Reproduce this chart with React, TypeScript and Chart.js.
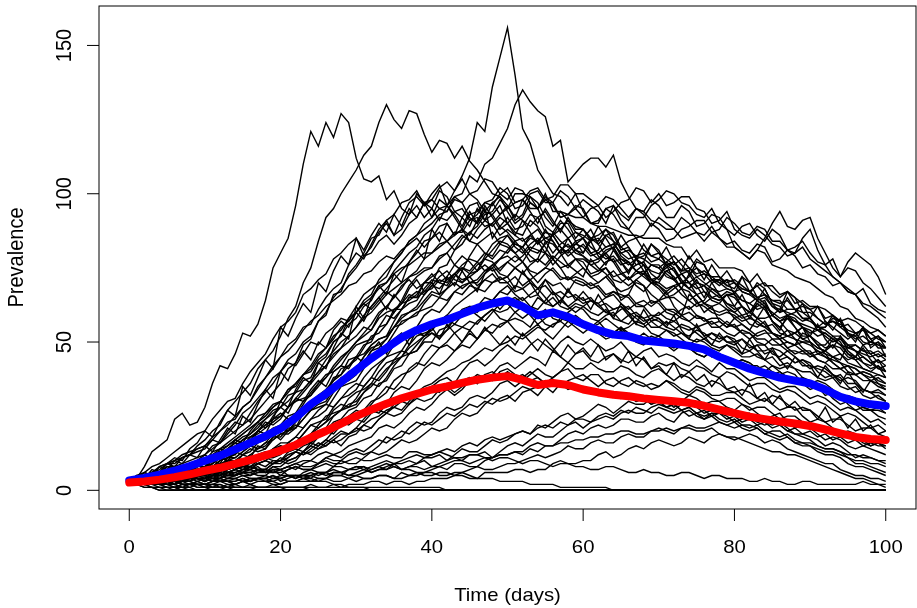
import React, { useEffect, useRef } from "react";
import { Chart, registerables } from "chart.js";

Chart.register(...registerables);

// Time grid (days)
const DAYS = [0,1,2,3,4,5,6,7,8,9,10,11,12,13,14,15,16,17,18,19,20,21,22,23,24,25,26,27,28,29,30,31,32,33,34,35,36,37,38,39,40,41,42,43,44,45,46,47,48,49,50,51,52,53,54,55,56,57,58,59,60,61,62,63,64,65,66,67,68,69,70,71,72,73,74,75,76,77,78,79,80,81,82,83,84,85,86,87,88,89,90,91,92,93,94,95,96,97,98,99,100];
// Grid for the two mean curves (days)
const MEAN_DAYS = [0,2,4,6,8,10,12,14,16,18,20,22,24,26,28,30,32,34,36,38,40,42,44,46,48,50,52,54,56,58,60,62,64,66,68,70,72,74,76,78,80,82,84,86,88,90,92,94,96,98,100];

const X_TICKS = [0, 20, 40, 60, 80, 100];
const Y_TICKS = [0, 50, 100, 150];
const X_TITLE = "Time (days)";
const Y_TITLE = "Prevalence";

// Mean prevalence among runs that took off (blue) and over all runs (red)
const MEAN_TAKEOFF = [3.3,4.2,5.3,6.6,8.2,10.0,11.7,13.8,16.0,18.3, 20.8,24.5,29,32.5,36.5,40.5,44.5,48,51.5,54, 56,57.5,59.5,61.5,63,64,62,59,60,58.5, 56,54,52.5,52,50.5,50,49.5,48.7,47.5,45, 43,41,39.5,38,37,36,34,31.5,30,29, 28.4];
const MEAN_ALL = [2.6,3.0,3.6,4.4,5.4,6.6,7.6,8.9,10.3,11.8, 13.4,15.3,17.8,20,22.5,25,27.2,29.2,31,32.5, 34,35,36.2,37.3,38,38.5,37.2,35.5,36.2,35.5, 34,33,32.2,31.7,31,30.5,30,29.5,28.5,27.2, 26,24.8,24,23.2,22.5,21.7,20.5,19.2,18,17.3, 17];

// Individual stochastic runs, one value per day
const runA1 = [3,4,8,13,15,17,24,26,22,23, 28,36,42,41,46,53,52,56,64,75, 80,85,96,110,121,116,124,119,127,124, 112,105,104,106,98,101,95,93,100,97, 92,98,96,92,88,86,91,95,85,89, 87,84,81,77,78,84,83,80,76,74, 72,78,75,73,70,64,66,71,69,63, 64,67,62,59,66,64,60,62,57,55, 58,56,54,58,56,53,51,48,49,53, 52,49,46,45,44,49,47,43,42,44, 40];
const runA2 = [3,3,4,6,6,9,9,11,12,15, 17,20,22,27,30,33,36,41,44,47, 52,58,62,70,75,84,92,95,100,104, 108,113,116,124,130,125,122,128,127,120, 114,118,117,112,116,111,108,104,100,99, 96,91,93,99,97,92,89,94,91,87, 85,88,83,86,87,82,80,76,77,83, 81,76,74,70,72,77,76,71,69,71, 66,72,70,65,63,59,61,67,65,60, 58,54,55,59,57,52,52,55,48,50, 45];
const runA3 = [3,5,6,8,9,11,13,15,17,19, 20,24,27,30,31,36,40,43,46,51, 55,57,60,66,68,71,73,78,80,83, 85,79,82,87,90,86,88,93,96,92, 95,101,99,94,92,96,97,91,93,96, 90,87,86,91,89,85,84,80,81,84, 80,85,83,79,77,73,74,78,76,71, 70,74,72,68,67,63,64,68,66,62, 60,62,58,63,61,57,55,52,53,55, 50,46,47,51,49,46,44,41,40,42, 38];
const runA4 = [3,4,5,6,7,9,10,11,12,14, 15,18,20,23,24,28,30,35,38,42, 45,49,51,55,56,61,65,68,70,76, 80,78,83,88,91,86,92,97,99,96, 100,103,96,101,105,100,98,94,97,99, 94,90,92,97,95,89,87,91,88,84, 85,80,81,86,84,79,77,74,76,71, 72,77,75,70,68,71,67,64,63,66, 62,59,60,64,62,57,55,58,55,51, 52,49,49,52,50,46,45,48,44,41, 42];
const runA5 = [3,4,4,5,6,8,8,9,10,11, 12,15,16,19,22,26,28,31,34,38, 40,44,46,50,52,57,60,65,68,72, 75,79,80,84,86,83,86,90,92,97, 98,95,94,99,97,92,90,94,93,89, 92,88,89,93,92,87,86,90,90,85, 88,85,84,88,86,81,82,78,79,83, 80,76,77,74,74,78,76,71,71,74, 70,67,66,70,68,63,62,59,60,63, 58,55,55,58,57,53,52,49,50,52, 48];
const runB1 = [3,3,3,4,5,6,7,8,9,10, 12,14,16,18,20,22,24,27,30,33, 36,41,43,49,51,57,59,66,67,73, 76,80,85,86,91,93,97,98,101,96, 98,102,104,101,106,112,124,121,136,146, 156,140,122,117,108,104,100,99,96,100, 94,90,90,95,96,91,88,92,92,96, 98,101,100,97,96,93,92,95,90,88, 82,80,78,81,85,90,94,89,88,91, 92,85,80,75,72,77,80,78,76,72, 66];
const runB2 = [3,3,3,4,4,5,6,7,8,9, 10,12,13,15,17,19,21,23,25,28, 30,34,35,39,40,44,46,50,52,58, 62,66,68,70,72,77,80,84,86,90, 92,95,96,99,100,106,104,110,112,117, 122,130,135,131,128,126,116,118,104,107, 110,112,112,109,113,104,99,95,94,98, 96,92,92,96,94,89,90,93,92,88, 86,89,90,86,84,88,86,81,80,85, 88,81,76,78,72,75,74,70,68,65, 62];
const runB3 = [3,3,4,4,5,5,6,7,7,8, 9,11,12,14,16,18,19,22,24,27, 28,32,33,37,38,43,45,50,52,56, 58,62,64,69,70,74,77,80,82,86, 88,92,91,94,95,91,93,97,98,102, 100,95,96,100,101,97,97,101,99,95, 98,96,94,90,96,93,91,95,93,89, 92,90,88,92,90,87,86,89,85,83, 84,81,80,83,82,77,78,81,79,75, 76,73,72,69,70,67,66,68,63,61, 60];
const runB4 = [3,4,3,4,4,5,5,6,6,7, 8,9,11,12,14,15,18,19,21,23, 25,28,30,33,36,39,42,46,48,52, 55,59,62,65,68,71,74,77,80,84, 85,89,90,86,88,93,94,97,96,100, 98,102,101,97,95,99,97,92,93,96, 95,90,91,95,93,89,88,85,86,90, 88,84,85,88,89,91,91,87,88,92, 90,87,86,89,88,84,84,81,82,84, 80,77,76,72,70,68,66,62,60,58, 55];
const runB5 = [3,3,4,5,6,8,7,8,9,9, 10,13,14,16,18,20,22,25,26,29, 30,34,36,39,41,45,48,52,54,58, 60,64,66,71,74,77,80,84,86,88, 90,93,94,98,97,100,101,105,104,100, 102,97,98,95,95,98,96,92,93,95, 92,95,96,92,94,97,98,102,101,97, 100,96,97,99,99,95,94,90,91,94, 88,86,85,88,86,83,82,79,80,82, 78,76,74,72,70,67,66,63,62,60, 58];
const runB6 = [3,3,3,4,4,5,5,6,6,7, 7,8,10,12,13,14,16,18,19,21, 22,25,26,30,32,35,38,41,44,47, 50,53,56,60,62,65,68,72,74,78, 80,82,84,87,87,91,92,89,90,93, 95,97,98,101,102,98,99,103,103,100, 100,98,96,99,98,95,92,95,94,91, 90,88,88,85,86,87,84,87,85,82, 82,80,78,81,80,76,75,74,72,71, 70,68,66,65,62,61,58,57,55,54, 52];
const runC1 = [3,3,4,5,6,4,5,7,8,8, 9,11,13,11,12,15,17,20,22,24, 26,24,25,29,33,36,38,42,45,47, 50,52,54,59,62,60,64,69,72,74, 75,79,80,76,74,79,83,80,79,83, 86,83,82,86,88,84,80,83,85,81, 79,76,77,80,82,77,74,76,77,73, 71,74,75,71,68,70,69,65,64,66, 66,62,60,63,64,59,57,59,58,55, 54,52,53,51,51,48,49,47,46,47, 45];
const runC2 = [3,2,2,3,4,5,5,4,4,5, 6,8,9,8,8,10,12,14,16,17, 19,20,21,24,27,29,30,34,38,39, 41,45,49,51,52,57,61,63,64,68, 71,70,72,76,79,77,74,78,81,84, 83,80,77,81,84,80,76,79,81,78, 77,73,74,77,78,74,71,73,74,71, 69,66,68,70,70,66,63,65,66,63, 61,62,60,58,58,59,57,54,53,55, 52,50,48,49,48,45,44,45,43,41, 40];
const runC3 = [3,4,4,3,3,4,5,6,7,7, 6,8,10,11,11,13,15,14,16,19, 21,20,23,27,30,31,33,37,41,42, 44,48,52,53,56,60,63,64,66,70, 73,70,69,73,76,78,77,74,75,78, 81,84,85,81,80,83,86,82,79,81, 83,80,78,81,82,78,76,78,76,74, 73,75,77,73,70,72,70,68,67,68, 67,64,63,65,66,62,60,61,61,58, 57,55,57,55,53,51,53,50,49,50, 48];
const runC4 = [3,2,2,3,3,4,5,4,4,5, 5,7,8,7,8,10,12,11,12,14, 16,16,18,21,24,25,27,31,35,36, 37,41,45,46,49,53,57,58,59,63, 66,65,68,72,75,73,74,79,83,85, 86,82,80,83,85,82,78,81,83,80, 79,77,78,80,77,78,77,74,73,76, 76,73,71,73,74,70,69,71,70,68, 67,68,67,65,66,64,64,61,61,62, 61,58,56,57,56,54,53,54,53,51, 50];
const runC5 = [3,4,4,5,5,4,4,6,7,6, 6,8,9,10,10,12,14,13,14,17, 19,19,21,24,27,28,29,33,36,37, 39,43,47,48,51,55,59,60,62,66, 69,68,71,73,71,72,74,76,74,75, 77,79,77,74,73,75,78,75,71,73, 75,72,70,72,74,71,69,71,73,70, 69,67,69,70,68,66,67,65,64,66, 65,62,60,62,63,59,57,58,57,55, 53,54,53,51,49,48,47,45,43,44, 42];
const runC6 = [3,4,5,5,4,6,7,6,7,9, 10,10,11,14,16,15,17,20,23,22, 24,28,30,31,32,36,39,40,42,46, 49,50,51,55,59,58,61,65,67,66, 69,72,74,71,70,73,76,78,77,74, 77,75,73,71,73,75,74,71,72,70, 69,70,68,65,67,66,65,62,62,64, 63,60,59,61,62,59,57,58,58,56, 55,56,54,52,53,53,52,50,49,50, 49,47,45,44,43,42,39,40,39,37, 36];
const runC7 = [3,3,2,3,4,3,3,4,5,5, 4,5,7,8,7,9,11,10,11,13, 15,14,16,19,22,23,24,28,31,32, 34,38,41,43,45,49,52,53,55,59, 61,60,63,67,69,70,70,73,76,78, 79,77,79,82,81,80,87,84,82,83, 85,82,80,82,83,80,78,79,78,76, 75,77,79,76,73,75,73,72,72,70, 71,69,67,69,70,67,65,67,65,63, 61,62,61,59,57,58,57,55,53,54, 52];
const runC8 = [3,4,4,3,3,5,4,6,7,6, 7,9,11,10,11,13,15,14,15,18, 21,20,23,26,29,30,31,35,37,40, 41,45,48,49,51,55,58,60,61,64, 67,66,68,70,68,70,71,74,76,73, 72,75,77,73,70,73,75,72,71,72, 71,69,70,72,69,67,68,70,69,66, 64,65,65,63,61,63,62,60,59,60, 59,57,58,57,55,53,51,52,51,48, 46,47,46,43,41,42,41,39,38,39, 38];
const runD1 = [3,3,2,3,4,3,3,5,5,4, 4,6,7,6,7,9,10,9,10,12, 13,13,14,17,19,20,21,25,27,28, 29,33,36,35,38,42,45,46,47,51, 53,52,54,58,59,61,60,63,64,61, 64,65,63,61,65,63,62,64,62,60, 62,64,63,60,59,61,62,59,57,58, 60,58,57,59,57,55,56,57,55,53, 52,54,53,50,49,51,51,48,46,47, 47,44,43,45,43,40,39,40,39,36, 34];
const runD2 = [3,3,4,4,3,4,5,4,4,6, 7,6,6,8,10,9,10,12,13,12, 13,16,18,17,19,22,25,26,27,31, 33,34,36,40,43,44,45,49,52,53, 54,57,59,58,61,62,61,63,64,67, 69,66,64,66,68,65,62,64,67,65, 63,64,62,60,61,62,60,58,56,58, 57,55,54,56,55,53,51,53,52,50, 49,51,49,47,47,48,47,45,43,44, 43,40,38,39,38,35,33,34,33,31, 30];
const runD3 = [3,2,2,3,3,2,3,4,5,4, 3,5,6,5,5,7,8,7,7,9, 11,10,11,13,16,15,17,20,23,22, 24,27,30,31,33,37,39,40,42,46, 49,48,50,53,55,57,56,59,61,60, 61,64,65,62,61,64,67,65,62,64, 67,64,63,65,66,63,61,63,62,59, 59,61,60,58,57,59,58,55,55,57, 55,53,51,53,54,51,49,50,49,47, 45,46,45,43,41,42,41,39,37,38, 36];
const runD4 = [3,4,4,3,3,5,4,4,6,5, 5,7,9,8,8,10,11,10,11,14, 15,14,16,19,22,21,23,27,29,28, 31,35,38,37,40,44,47,46,49,52, 53,51,54,56,55,54,57,59,61,58, 57,60,62,59,56,58,60,58,57,59, 57,55,56,58,56,54,55,57,56,53, 52,54,53,51,49,51,50,48,47,49, 47,45,45,46,44,42,41,42,41,38, 36,37,36,34,31,32,31,29,30,29, 28];
const runD5 = [3,4,5,4,4,6,6,5,5,7, 8,7,8,11,13,12,13,16,17,19, 17,20,22,21,24,27,29,28,31,34, 36,35,38,42,45,46,47,51,53,52, 54,57,58,56,59,61,59,57,60,63, 63,60,58,60,59,56,55,58,58,56, 55,56,54,52,53,55,53,51,50,52, 51,49,48,50,48,46,45,47,46,44, 43,44,43,41,42,40,39,40,39,36, 34,35,34,31,29,30,29,27,27,28, 26];
const runD6 = [3,3,2,3,4,3,2,3,5,4, 3,5,6,5,5,6,8,7,7,9, 10,9,10,13,15,14,16,18,20,19, 21,24,27,26,29,33,35,34,37,41, 43,42,44,47,49,48,51,54,56,55, 57,58,57,55,59,61,58,57,60,62, 61,58,57,59,60,57,56,59,58,55, 55,57,55,53,52,54,53,51,50,52, 51,48,47,49,49,46,45,47,45,43, 41,42,41,39,37,38,37,34,33,34, 32];
const runD7 = [3,4,4,3,2,4,5,4,3,5, 6,5,5,7,8,7,8,10,11,10, 10,13,14,13,15,18,21,20,22,25, 27,26,29,32,35,34,37,41,43,42, 45,48,49,47,50,53,51,54,53,56, 57,54,52,54,56,53,51,54,57,55, 53,55,53,51,52,54,52,50,49,51, 51,49,47,49,48,46,45,47,46,44, 43,44,43,41,40,42,40,38,37,38, 37,35,32,33,32,29,27,28,27,25, 24];
const runE1 = [3,2,3,4,4,3,3,4,5,4, 4,6,5,6,7,8,7,6,6,8, 8,10,11,13,12,14,15,17,15,18, 19,22,21,24,26,28,27,30,33,34, 35,37,38,36,40,43,44,42,44,47, 49,47,46,49,51,49,47,50,52,50, 49,51,49,47,48,50,47,45,47,48, 45,46,45,43,42,44,42,40,43,41, 41,39,37,38,38,36,34,35,35,33, 31,32,31,29,27,28,27,25,23,24, 22];
const runE2 = [3,3,2,2,3,3,2,3,4,4, 3,4,4,5,6,5,5,7,6,8, 7,8,9,10,10,12,13,12,13,15, 16,17,18,21,22,21,23,26,28,27, 29,32,34,32,34,37,39,38,39,42, 43,41,43,45,44,42,47,45,43,46, 47,44,43,45,46,44,43,45,44,41, 43,42,43,41,40,42,41,39,38,40, 39,37,35,36,36,34,33,34,33,31, 29,30,29,27,25,26,25,23,21,22, 20];
const runE3 = [3,3,4,4,3,4,5,6,4,5, 6,5,5,7,8,7,7,9,10,9, 9,11,13,12,13,15,17,16,17,19, 21,20,21,24,26,25,26,29,31,30, 31,34,35,33,35,37,36,39,37,40, 41,39,38,40,38,36,38,40,41,38, 37,39,39,36,35,37,38,36,35,36, 35,37,35,33,32,34,33,31,30,31, 31,29,27,28,28,26,24,25,25,23, 21,22,21,19,18,19,18,16,15,16, 15];
const runE4 = [3,2,3,3,2,3,4,3,3,5, 5,4,4,6,5,6,6,5,5,7, 5,7,8,7,7,9,11,10,10,12, 13,12,13,15,18,17,18,21,23,22, 23,26,28,27,28,31,32,31,33,36, 37,35,37,39,41,39,38,40,43,41, 41,43,41,40,40,42,41,39,38,40, 41,39,37,39,38,36,35,37,36,34, 33,34,33,31,30,32,31,29,27,28, 27,25,23,24,24,22,20,21,21,19, 18];
const runE5 = [3,2,2,3,3,2,2,3,4,3, 2,3,4,3,3,4,3,4,5,4, 5,5,4,6,7,6,6,8,10,9, 9,11,13,12,13,15,17,16,17,19, 21,20,21,24,26,25,26,29,31,30, 31,33,35,34,35,37,36,35,37,38, 39,37,35,37,38,36,35,37,36,34, 35,37,36,34,33,35,34,32,32,33, 33,31,29,30,31,29,27,28,28,25, 23,24,23,21,19,20,19,17,15,16, 14];
const runF1 = [3,2,2,3,3,2,2,3,3,2, 2,3,4,3,3,4,3,4,4,3, 4,3,3,4,5,4,4,6,6,5, 5,6,7,8,7,9,9,10,9,11, 11,12,10,12,14,13,13,15,17,16, 17,19,20,19,22,21,23,25,26,24, 25,27,29,28,26,28,30,29,29,31, 31,30,28,30,32,31,29,30,30,28, 27,29,28,26,24,25,26,23,21,22, 21,19,17,18,17,15,14,15,14,13, 12];
const runF2 = [3,3,2,2,2,1,1,2,2,1, 1,2,2,1,2,3,2,3,3,2, 2,3,3,4,3,3,4,5,5,4, 3,4,4,5,5,4,6,5,5,6, 7,8,7,9,9,8,8,10,11,12, 12,13,13,15,16,15,15,17,19,20, 19,21,22,21,22,24,24,23,23,25, 26,24,23,26,27,25,24,26,26,25, 23,24,25,23,22,23,22,20,19,19, 18,17,15,16,15,13,11,12,11,10, 9];
const runF3 = [3,4,3,4,4,3,3,2,2,3, 4,3,3,4,4,3,4,4,4,5, 3,4,5,5,4,6,6,5,5,7, 7,8,6,7,8,9,7,8,9,10, 8,9,10,11,10,12,12,13,11,13, 15,16,15,17,19,18,18,20,22,23, 21,23,24,25,24,26,27,26,26,28, 29,28,27,29,30,28,26,27,28,26, 25,26,26,24,23,22,23,21,19,18, 17,15,14,14,13,11,9,9,8,7, 6];
const runF4 = [3,2,2,2,2,3,3,2,2,2, 2,3,3,2,2,3,3,4,3,3, 2,3,3,3,3,4,4,3,3,4, 5,4,4,5,5,4,4,5,6,5, 5,6,6,5,6,7,8,7,7,8, 9,9,10,11,12,11,12,13,15,14, 14,16,17,16,16,18,19,18,18,20, 21,20,19,21,22,21,21,22,23,22, 21,22,22,21,19,20,20,18,16,16, 15,13,12,12,11,9,8,8,7,6, 5];
const runF5 = [3,3,2,2,2,1,1,1,2,2, 1,1,2,1,1,1,2,1,1,2, 1,1,1,1,2,1,1,2,1,2, 2,2,3,3,2,3,3,2,3,3, 4,4,4,5,5,4,4,6,6,6, 6,7,7,6,7,7,9,10,9,9, 10,10,12,13,11,12,14,15,14,16, 17,16,15,16,18,17,16,18,19,18, 17,18,19,18,16,17,16,14,13,12, 11,10,9,9,7,6,5,5,4,4, 3];
const runG1 = [3,3,3,4,4,3,4,5,5,4, 4,5,6,5,5,6,6,7,7,6, 6,7,8,7,7,8,9,8,8,7, 8,8,7,8,9,8,7,7,6,6, 6,5,5,6,6,5,4,4,4,3, 3,3,3,2,2,2,2,1,1,1, 1,1,1,1,0,0,0,0,0,0, 0,0,0,0,0,0,0,0,0,0, 0,0,0,0,0,0,0,0,0,0, 0,0,0,0,0,0,0,0,0,0, 0];
const runG2 = [3,3,2,2,2,3,3,2,2,2, 2,1,1,2,1,1,1,1,1,1, 1,1,1,1,1,1,1,1,1,1, 1,1,1,1,1,1,1,1,1,1, 1,1,0,0,0,0,0,0,0,0, 0,0,0,0,0,0,0,0,0,0, 0,0,0,0,0,0,0,0,0,0, 0,0,0,0,0,0,0,0,0,0, 0,0,0,0,0,0,0,0,0,0, 0,0,0,0,0,0,0,0,0,0, 0];
const runG3 = [3,4,3,4,4,5,5,4,4,5, 6,6,5,6,7,6,7,8,6,7, 7,8,9,8,8,9,10,9,9,10, 11,10,10,11,12,11,11,13,13,12, 12,13,12,11,11,12,12,11,10,11, 11,10,9,10,10,9,8,9,9,8, 8,7,7,8,8,7,6,6,7,6, 6,5,5,6,6,5,4,5,5,4, 4,4,3,3,4,3,3,2,2,3, 3,2,2,2,2,2,2,3,2,2, 2];
const runG4 = [3,3,3,2,2,3,3,3,3,4, 4,3,3,4,4,5,4,4,4,5, 4,5,5,5,5,6,5,6,6,5, 6,7,6,7,7,8,7,8,8,7, 8,8,9,10,10,9,10,11,11,12, 12,13,12,14,13,15,15,16,16,17, 17,18,18,19,19,20,20,19,19,20, 20,21,20,21,21,20,20,21,19,18, 18,17,16,15,14,13,13,12,12,11, 10,9,8,7,6,5,4,4,3,2, 1];
const runH1 = [3,4,5,6,8,9,10,12,13,14, 15,17,20,22,25,28,30,34,38,41, 45,47,50,54,57,59,62,64,66,69, 70,73,74,77,79,78,81,83,85,82, 85,87,84,86,88,84,83,85,87,83, 82,80,82,79,77,80,78,75,76,78, 75,72,73,75,71,70,72,69,67,70, 68,65,66,68,64,62,63,61,60,61, 58,59,56,55,57,53,52,54,51,50, 50,48,47,49,46,44,45,43,41,42, 40];
const runH2 = [3,3,4,4,5,5,6,6,7,7, 8,10,11,13,14,17,18,20,22,24, 25,28,31,34,37,40,44,47,50,52, 55,58,60,63,66,68,70,72,73,75, 75,78,80,83,86,84,88,91,89,92, 90,93,91,89,92,94,90,88,91,89, 88,85,86,88,84,82,84,85,81,79, 80,78,76,78,75,73,74,72,70,71, 70,68,67,69,66,64,63,64,61,60, 60,58,56,57,55,53,51,52,50,49, 48];
const runH3 = [3,4,4,5,6,7,7,8,9,9, 10,12,14,15,17,19,21,23,26,28, 30,33,36,39,42,46,48,51,55,57, 60,63,65,68,70,73,75,76,78,80, 80,83,84,81,85,87,85,88,90,86, 88,86,84,86,83,85,86,82,80,83, 82,79,80,78,79,76,77,74,73,76, 75,72,71,73,70,68,69,67,65,67, 66,64,63,61,62,60,58,59,57,56, 55,54,52,50,51,49,47,46,45,46, 44];
const runH4 = [3,3,4,4,3,4,5,5,4,5, 5,6,7,7,8,8,9,10,11,11, 12,14,15,17,19,21,23,25,27,29, 30,33,35,38,41,43,45,48,50,52, 55,57,59,62,64,66,68,67,70,71, 72,75,73,76,78,76,79,77,75,78, 78,76,74,75,72,73,71,74,72,70, 70,68,69,66,64,66,63,62,63,61, 60,58,59,56,55,56,53,52,53,51, 50,48,47,45,46,43,42,41,40,39, 38];
const runH5 = [3,4,3,5,4,6,5,7,6,7, 6,8,7,10,9,12,11,15,14,18, 18,21,21,26,27,32,33,38,39,44, 45,49,50,55,56,61,61,65,65,70, 70,75,76,81,83,87,89,93,94,98, 95,100,100,99,95,100,94,94,93,92, 92,90,89,89,88,87,86,86,85,85, 85,83,82,82,78,81,77,78,75,75, 75,74,70,73,69,69,66,67,63,64, 62,62,58,59,55,56,53,54,51,52, 50];
const runH6 = [3,2,3,3,4,3,4,4,5,4, 4,5,4,6,6,7,7,9,8,10, 10,12,13,15,16,19,20,23,24,27, 28,31,32,36,37,41,42,46,47,50, 50,54,55,58,59,62,62,65,64,67, 66,69,68,70,68,71,69,70,67,71, 70,68,69,66,67,65,66,63,64,62, 64,61,61,59,60,58,58,56,57,55, 56,53,53,51,51,49,49,47,47,46, 46,44,43,41,41,39,39,37,37,36, 35];
const runH7 = [3,4,6,5,8,9,8,11,12,13, 14,17,16,20,23,22,26,30,33,36, 40,43,42,46,50,49,53,55,58,57, 60,63,61,64,67,65,69,71,68,70, 72,74,71,73,70,72,69,71,73,70, 70,67,68,65,66,63,65,62,61,63, 62,60,59,61,58,57,59,56,55,57, 55,54,52,53,51,50,51,49,48,49, 48,46,47,45,44,45,42,43,41,40, 40,38,37,38,35,34,35,32,31,32, 30];
const runH8 = [3,5,4,6,5,7,6,8,9,8, 10,12,11,14,15,17,19,21,24,26, 28,30,33,34,37,40,42,45,48,50, 52,55,54,58,60,61,63,66,65,67, 68,71,70,73,75,74,77,80,78,81, 80,83,82,85,84,87,86,88,85,87, 86,84,85,82,83,80,81,79,80,77, 78,76,77,74,75,72,73,70,71,69, 70,67,66,64,65,62,61,60,59,57, 58,55,54,52,52,49,49,47,47,45, 46];
const runH9 = [3,3,4,3,4,5,4,5,6,5, 5,6,7,6,7,8,8,9,10,9, 10,11,13,12,14,16,15,17,19,19, 20,22,24,25,27,28,30,32,33,35, 36,38,40,41,43,44,46,48,47,49, 50,52,51,53,55,54,56,57,55,57, 56,55,57,54,53,55,52,51,53,51, 52,50,49,50,48,47,48,45,46,45, 44,43,42,42,40,39,40,38,37,37, 36,35,33,33,31,30,30,28,27,27, 26];
const runH10 = [3,4,3,5,6,5,7,6,8,7, 8,9,11,10,13,14,15,17,19,20, 22,23,26,27,30,32,34,37,39,42, 45,46,49,51,52,55,56,58,60,61, 62,65,64,67,66,69,68,71,70,72, 70,72,69,71,68,69,66,67,65,66, 64,65,62,63,61,62,59,60,58,59, 58,56,57,55,54,55,52,53,51,52, 50,51,48,49,46,47,44,45,43,44, 42,41,40,38,39,36,36,34,33,33, 32];
const runH11 = [3,5,4,7,6,9,11,10,14,16, 20,18,23,27,25,35,32,38,44,41, 55,52,58,63,60,70,67,74,79,76, 85,81,86,90,87,93,89,95,92,97, 95,91,96,93,89,94,90,96,92,88, 90,86,91,87,83,88,84,80,85,81, 80,84,79,76,81,77,73,78,74,70, 72,76,71,68,73,69,65,70,66,63, 62,66,61,58,62,57,54,59,55,52, 52,56,51,48,52,47,45,49,46,43, 44];
const runH12 = [3,4,6,5,8,7,10,9,12,11, 15,13,17,21,19,25,23,29,34,31, 40,37,43,47,44,50,48,54,57,55, 60,57,62,65,61,66,63,68,71,67, 70,66,72,69,74,70,67,73,75,71, 72,68,74,70,66,71,67,63,68,64, 65,61,66,62,58,63,60,56,61,57, 58,55,59,54,51,56,52,49,53,50, 50,46,51,47,44,48,44,41,45,42, 42,38,42,39,36,40,36,33,37,35, 34];
const runH13 = [3,2,4,5,4,6,8,7,9,10, 12,10,14,13,17,16,20,23,21,25, 28,26,31,30,34,37,35,40,42,41, 45,43,47,50,46,51,53,49,54,52, 55,51,56,53,50,54,51,55,52,49, 52,49,53,50,47,51,48,45,49,46, 48,45,49,44,46,43,47,42,45,41, 42,39,43,38,40,37,39,35,38,34, 35,32,36,31,33,29,32,28,30,27, 27,24,28,23,25,21,24,20,22,19, 20];
const runH14 = [3,4,3,5,4,6,5,7,6,8, 8,10,9,13,12,16,15,20,19,24, 30,28,34,38,36,43,41,48,53,51, 62,58,65,69,66,73,70,77,81,78, 88,84,90,86,92,89,95,91,97,93, 96,92,98,94,90,95,91,87,92,88, 88,84,89,85,81,86,82,78,83,79, 78,82,77,74,79,75,71,76,72,69, 68,72,67,64,68,63,60,65,61,58, 58,62,57,54,58,53,50,55,51,48, 48];
const runL1 = [3,3,2,3,3,4,3,3,4,4, 3,4,5,4,5,6,5,6,7,6, 7,8,7,9,10,9,11,12,11,13, 14,13,15,17,16,18,20,19,21,23, 22,24,26,25,27,29,28,30,29,31, 32,30,33,34,32,35,33,36,34,35, 35,33,34,32,33,31,32,30,31,29, 30,28,29,27,28,26,25,26,24,23, 24,22,21,22,20,19,18,19,17,16, 16,15,14,14,13,12,12,11,11,10, 10];
const runL2 = [3,2,2,3,2,2,1,2,2,3, 2,2,3,3,2,3,4,3,3,4, 4,5,4,5,6,5,6,7,6,7, 8,7,8,9,10,9,10,11,12,11, 12,13,14,13,15,16,15,17,18,17, 18,19,20,19,21,22,21,23,22,24, 24,23,25,26,25,27,26,28,27,26, 28,27,26,27,25,26,24,25,23,22, 23,21,20,21,19,18,17,18,16,15, 15,14,13,13,12,11,10,10,9,9, 8];
const runL3 = [3,4,3,4,5,4,5,6,5,6, 7,6,8,9,8,10,11,10,12,13, 14,13,15,17,16,18,20,19,22,23, 24,23,26,27,26,29,30,29,32,33, 34,33,36,35,37,38,36,39,40,38, 40,38,39,37,38,36,37,35,36,34, 35,33,34,32,33,31,32,30,31,29, 30,28,29,27,28,26,27,25,26,24, 25,23,24,22,23,21,22,20,21,19, 20,18,19,17,18,16,17,15,16,15, 15];

// Runs that died out early: [day, value] pairs (value stays 0 after the last change)
const runX1 = [[0,3],[1,3],[2,2],[3,1],[4,0],[100,0]];
const runX2 = [[0,3],[1,2],[2,1],[3,1],[4,0],[100,0]];
const runX3 = [[0,3],[1,4],[2,4],[3,3],[4,2],[5,2],[6,1],[7,0],[100,0]];
const runX4 = [[0,3],[1,2],[2,2],[3,3],[4,2],[5,3],[6,3],[7,2],[8,1],[9,0],[100,0]];
const runX5 = [[0,3],[1,3],[2,3],[3,2],[4,1],[5,0],[100,0]];
const runX6 = [[0,3],[1,4],[2,4],[3,5],[4,5],[5,4],[6,3],[7,3],[8,2],[9,2],[10,1],[11,0],[100,0]];
const runX7 = [[0,3],[1,2],[2,2],[3,1],[4,1],[5,1],[6,1],[7,0],[100,0]];
const runX8 = [[0,3],[1,4],[2,5],[3,6],[4,6],[5,7],[6,8],[7,7],[8,6],[9,6],[10,5],[11,4],[12,3],[13,3],[14,2],[15,1],[16,1],[17,0],[100,0]];
const runX9 = [[0,3],[1,3],[2,3],[3,4],[4,4],[5,3],[6,2],[7,1],[8,0],[100,0]];
const runX10 = [[0,3],[1,4],[2,4],[3,3],[4,3],[5,3],[6,3],[7,2],[8,2],[9,1],[10,1],[11,1],[12,1],[13,0],[100,0]];
const runX11 = [[0,3],[1,2],[2,1],[3,1],[4,1],[5,1],[6,0],[100,0]];
const runX12 = [[0,3],[1,3],[2,3],[3,2],[4,2],[5,2],[6,2],[7,1],[8,1],[9,2],[10,2],[11,1],[12,1],[13,1],[14,0],[100,0]];
const runX13 = [[0,3],[1,4],[2,4],[3,4],[4,4],[5,5],[6,4],[7,6],[8,6],[9,5],[10,5],[11,4],[12,3],[13,3],[14,4],[15,3],[16,2],[17,1],[18,1],[19,1],[20,1],[21,0],[100,0]];
const runX14 = [[0,3],[1,2],[2,2],[3,3],[4,3],[5,3],[6,4],[7,3],[8,3],[9,2],[10,2],[11,2],[12,1],[23,1],[24,0],[100,0]];
const runX15 = [[0,3],[1,4],[2,4],[3,6],[4,6],[5,5],[6,5],[7,7],[8,8],[9,9],[10,9],[11,8],[12,8],[13,10],[14,10],[15,9],[16,8],[17,7],[18,6],[19,6],[20,7],[21,5],[22,5],[23,4],[24,4],[25,3],[26,3],[27,2],[28,2],[29,1],[31,1],[32,0],[100,0]];

const DAILY_RUNS = [
  runA1, runA2, runA3, runA4, runA5,
  runB1, runB2, runB3, runB4, runB5, runB6,
  runC1, runC2, runC3, runC4, runC5, runC6, runC7, runC8,
  runD1, runD2, runD3, runD4, runD5, runD6, runD7,
  runE1, runE2, runE3, runE4, runE5,
  runF1, runF2, runF3, runF4, runF5,
  runG1, runG2, runG3, runG4,
  runH1, runH2, runH3, runH4, runH5, runH6, runH7, runH8, runH9, runH10,
  runH11, runH12, runH13, runH14,
  runL1, runL2, runL3,
];
const EXTINCT_RUNS = [
  runX1, runX2, runX3, runX4, runX5, runX6, runX7, runX8,
  runX9, runX10, runX11, runX12, runX13, runX14, runX15,
];

const W = 917;
const H = 608;

const dailyPoints = (vals: number[]) => vals.map((v, i) => ({ x: DAYS[i], y: v }));
const meanPoints = (vals: number[]) => vals.map((v, i) => ({ x: MEAN_DAYS[i], y: v }));
const pairPoints = (pairs: number[][]) => pairs.map(([d, v]) => ({ x: d, y: v }));

const FONT = "'Liberation Sans', Arial, Helvetica, sans-serif";

const rAxesPlugin = {
  id: "rAxes",
  afterDraw(chart: any) {
    const { ctx, chartArea: a, scales } = chart;
    const xs = scales.x;
    const ys = scales.y;
    ctx.save();
    ctx.strokeStyle = "#000";
    ctx.lineWidth = 1;
    ctx.strokeRect(a.left, a.top, a.right - a.left, a.bottom - a.top);
    ctx.beginPath();
    X_TICKS.forEach((v) => {
      const x = xs.getPixelForValue(v);
      ctx.moveTo(x, a.bottom);
      ctx.lineTo(x, a.bottom + 12);
    });
    Y_TICKS.forEach((v) => {
      const y = ys.getPixelForValue(v);
      ctx.moveTo(a.left - 12, y);
      ctx.lineTo(a.left, y);
    });
    ctx.stroke();

    ctx.fillStyle = "#000";
    ctx.textAlign = "center";
    ctx.textBaseline = "alphabetic";
    ctx.font = `18.5px ${FONT}`;
    X_TICKS.forEach((v) => {
      const x = xs.getPixelForValue(v);
      ctx.save();
      ctx.translate(x, a.bottom + 44.3);
      ctx.scale(1.1, 1);
      ctx.fillText(String(v), 0, 0);
      ctx.restore();
    });
    ctx.save();
    ctx.translate((a.left + a.right) / 2, a.bottom + 91.6);
    ctx.scale(1.1, 1);
    ctx.fillText(X_TITLE, 0, 0);
    ctx.restore();
    ctx.font = `20px ${FONT}`;
    Y_TICKS.forEach((v) => {
      const y = ys.getPixelForValue(v);
      ctx.save();
      ctx.translate(a.left - 28.3, y);
      ctx.rotate(-Math.PI / 2);
      ctx.scale(1, 1.08);
      ctx.fillText(String(v), 0, 0);
      ctx.restore();
    });
    ctx.save();
    ctx.translate(a.left - 76.3, (a.top + a.bottom) / 2);
    ctx.rotate(-Math.PI / 2);
    ctx.scale(1, 1.08);
    ctx.fillText(Y_TITLE, 0, 0);
    ctx.restore();
    ctx.restore();
  },
};

export default function App() {
  const ref = useRef<HTMLCanvasElement | null>(null);
  useEffect(() => {
    if (!ref.current) return;
    const black = (data: any[]) => ({
      data,
      borderColor: "#000",
      borderWidth: 1.4,
      pointRadius: 0,
      fill: false,
      tension: 0,
      order: 2,
    });
    const runSets = [
      ...DAILY_RUNS.map((r) => black(dailyPoints(r))),
      ...EXTINCT_RUNS.map((r) => black(pairPoints(r))),
    ];
    const chart = new Chart(ref.current, {
      type: "line",
      data: {
        datasets: [
          {
            data: meanPoints(MEAN_ALL),
            borderColor: "#ff0000",
            borderWidth: 8,
            borderCapStyle: "round",
            borderJoinStyle: "round",
            pointRadius: 0,
            fill: false,
            tension: 0,
            order: 0,
          },
          {
            data: meanPoints(MEAN_TAKEOFF),
            borderColor: "#0000ff",
            borderWidth: 8,
            borderCapStyle: "round",
            borderJoinStyle: "round",
            pointRadius: 0,
            fill: false,
            tension: 0,
            order: 1,
          },
          ...runSets,
        ] as any,
      },
      options: {
        responsive: false,
        maintainAspectRatio: false,
        animation: false,
        events: [],
        layout: { padding: { top: 6, right: 1, left: 0, bottom: 0 } },
        plugins: { legend: { display: false }, tooltip: { enabled: false } },
        scales: {
          x: {
            type: "linear",
            min: -4,
            max: 104,
            bounds: "data",
            grid: { display: false },
            border: { display: false },
            ticks: { display: false },
            afterFit: (s: any) => {
              s.height = 99;
            },
          },
          y: {
            type: "linear",
            min: -6.3,
            max: 163.3,
            bounds: "data",
            grid: { display: false },
            border: { display: false },
            ticks: { display: false },
            afterFit: (s: any) => {
              s.width = 99;
            },
          },
        },
      } as any,
      plugins: [rAxesPlugin],
    });
    return () => chart.destroy();
  }, []);
  return (
    <div style={{ position: "fixed", left: 0, top: 0, width: W, height: H, background: "#fff" }}>
      <canvas ref={ref} width={W} height={H} style={{ display: "block" }} />
    </div>
  );
}
